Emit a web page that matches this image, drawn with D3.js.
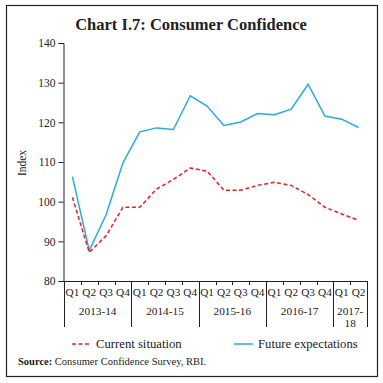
<!DOCTYPE html>
<html><head><meta charset="utf-8">
<script src="https://cdn.jsdelivr.net/npm/d3@7"></script>
<style>body{margin:0;background:#fff}svg{display:block}</style>
</head><body>
<script>
const quarters = ["Q1","Q2","Q3","Q4","Q1","Q2","Q3","Q4","Q1","Q2","Q3","Q4","Q1","Q2","Q3","Q4","Q1","Q2"];
const years = [["2013-14"],["2014-15"],["2015-16"],["2016-17"],["2017-","18"]];
const yearSpans = [4,4,4,4,2];
const currentSituation = [101.1,87.2,91.4,98.6,98.6,103.2,105.6,108.5,107.7,102.9,102.9,104.1,104.9,104.1,101.8,98.6,96.9,95.3];
const futureExpectations = [106.3,87.7,96.7,109.8,117.6,118.6,118.2,126.7,124.1,119.2,120.1,122.2,121.9,123.3,129.6,121.6,120.8,118.7];
const yTicks = [80,90,100,110,120,130,140];

const W=383,H=383;
const font="'Liberation Serif', serif";
const svg=d3.select("body").append("svg").attr("width",W).attr("height",H);
svg.append("rect").attr("x",6.5).attr("y",5.5).attr("width",371).attr("height",371).attr("fill","none").attr("stroke","#222").attr("stroke-width",1.2);
svg.append("text").attr("x",191).attr("y",30).attr("text-anchor","middle").attr("font-family",font).attr("font-weight","bold").attr("font-size",16.5).attr("fill","#222").text("Chart I.7: Consumer Confidence");

const idx=d3.range(quarters.length);
const x=d3.scaleBand().domain(idx).range([64,367]);
const y=d3.scaleLinear().domain([80,140]).range([281,43]);
const cx=i=>x(i)+x.bandwidth()/2;

const ya=svg.append("g").attr("transform","translate(63.5,0)").call(d3.axisLeft(y).tickValues(yTicks).tickSize(5).tickPadding(3));
ya.selectAll("text").attr("font-family",font).attr("font-size",11.5).attr("fill","#222");
ya.selectAll("line,path").attr("stroke","#222");

svg.append("text").attr("transform","translate(26,163) rotate(-90)").attr("text-anchor","middle").attr("font-family",font).attr("font-size",11.5).attr("fill","#222").text("Index");

// x axis
svg.append("line").attr("x1",63).attr("x2",367).attr("y1",281.5).attr("y2",281.5).attr("stroke","#222");
const xa=svg.append("g");
idx.forEach(i=>{
  xa.append("text").attr("x",cx(i)).attr("y",296).attr("text-anchor","middle").attr("font-family",font).attr("font-size",11.3).attr("fill","#222").text(quarters[i]);
  if(i>0) xa.append("line").attr("x1",Math.round(x(i))+0.5).attr("x2",Math.round(x(i))+0.5).attr("y1",281).attr("y2",285).attr("stroke","#222");
});
let start=0;
yearSpans.forEach((s,k)=>{
  const x0=x(start), x1=x(start+s-1)+x.bandwidth();
  [x0,x1].forEach(xx=>svg.append("line").attr("x1",Math.round(xx)+0.5).attr("x2",Math.round(xx)+0.5).attr("y1",281).attr("y2",327).attr("stroke","#222"));
  years[k].forEach((t,j)=>svg.append("text").attr("x",(x0+x1)/2).attr("y",315+j*12).attr("text-anchor","middle").attr("font-family",font).attr("font-size",11.3).attr("fill","#222").text(t));
  start+=s;
});

const line=d3.line().x((d,i)=>cx(i)).y(d=>y(d));
svg.append("path").datum(futureExpectations).attr("d",line).attr("fill","none").attr("stroke","#29abe2").attr("stroke-width",1.5);
svg.append("path").datum(currentSituation).attr("d",line).attr("fill","none").attr("stroke","#ed1c24").attr("stroke-width",1.5).attr("stroke-dasharray","4,2.5");

// legend
svg.append("line").attr("x1",72).attr("x2",91).attr("y1",344).attr("y2",344).attr("stroke","#ed1c24").attr("stroke-width",1.5).attr("stroke-dasharray","4,2.5");
svg.append("text").attr("x",96).attr("y",348).attr("font-family",font).attr("font-size",12.7).attr("fill","#222").text("Current situation");
svg.append("line").attr("x1",234).attr("x2",253).attr("y1",344).attr("y2",344).attr("stroke","#29abe2").attr("stroke-width",1.5);
svg.append("text").attr("x",258).attr("y",348).attr("font-family",font).attr("font-size",12.7).attr("fill","#222").text("Future expectations");

const src=svg.append("text").attr("x",18).attr("y",365).attr("font-family",font).attr("font-size",10.5).attr("fill","#222");
src.append("tspan").attr("font-weight","bold").text("Source:");
src.append("tspan").text(" Consumer Confidence Survey, RBI.");
</script>
</body></html>
